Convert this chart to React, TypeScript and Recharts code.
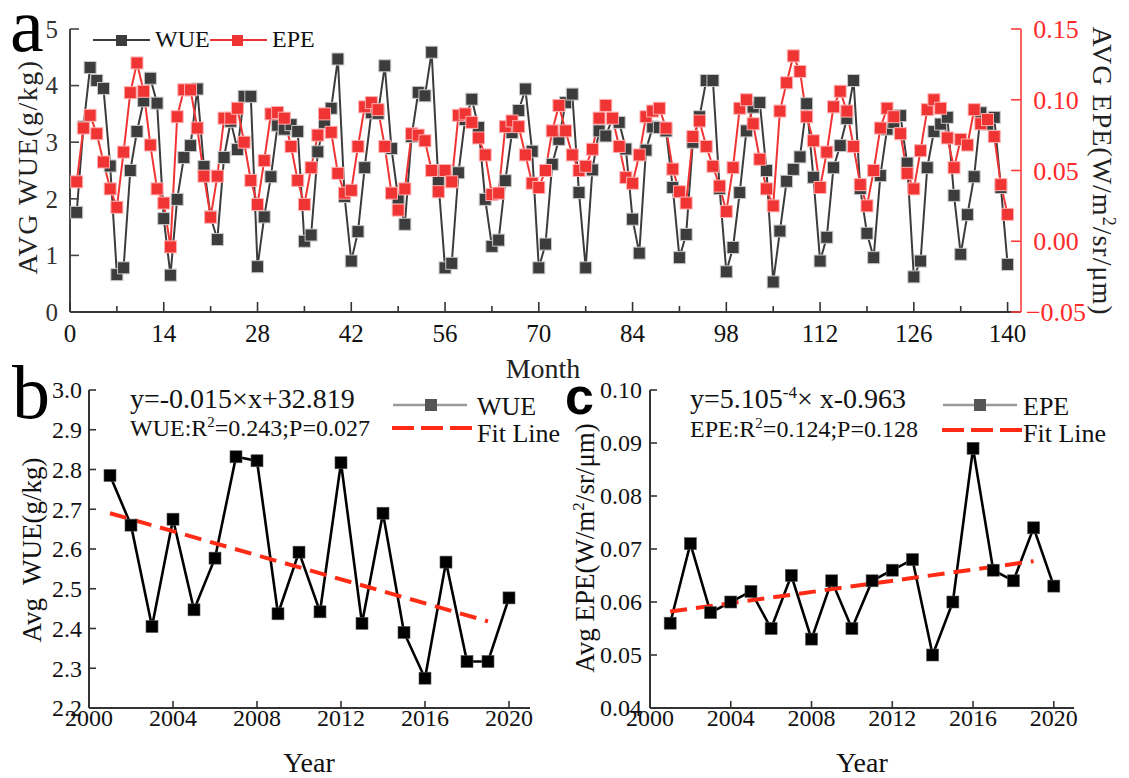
import React from 'react';
import { LineChart, Line, XAxis, YAxis } from 'recharts';

const FONT = '"Liberation Serif", "Times New Roman", Times, serif';

// ---------- Panel a: monthly data ----------
const MONTHS = Array.from({ length: 140 }, (_, i) => i + 1);
const WUE_MONTHLY = [
  1.76, 3.27, 4.32, 4.09, 3.95, 2.58, 0.66, 0.78, 2.5, 3.19,
  3.73, 4.13, 3.69, 1.65, 0.65, 1.99, 2.73, 2.94, 3.94, 2.57,
  1.68, 1.28, 2.73, 3.37, 2.87, 3.81, 3.81, 0.8, 1.68, 2.39,
  3.3, 3.23, 3.31, 3.19, 1.25, 1.36, 2.83, 3.35, 3.6, 4.47,
  2.04, 0.9, 1.42, 2.55, 3.52, 3.51, 4.35, 2.89, 2.01, 1.55,
  3.1, 3.88, 3.82, 4.59, 2.32, 0.78, 0.86, 2.46, 3.4, 3.76,
  3.26, 1.99, 1.16, 1.27, 2.32, 3.17, 3.56, 3.94, 2.84, 0.78,
  1.2, 2.61, 3.05, 3.7, 3.85, 2.11, 0.78, 2.51, 3.2, 3.11,
  3.42, 3.35, 2.88, 1.64, 1.04, 2.86, 3.27, 3.26, 3.2, 2.2,
  0.96, 1.37, 3.0, 3.45, 4.09, 4.09, 2.18, 0.71, 1.14, 2.11,
  3.2, 3.62, 3.7, 2.5, 0.53, 1.43, 2.31, 2.52, 2.74, 3.68,
  2.38, 0.9, 1.32, 2.55, 2.94, 3.42, 4.09, 2.18, 1.39, 0.96,
  2.41, 3.23, 3.35, 3.47, 2.63, 0.62, 0.9, 2.55, 3.19, 3.32,
  3.44, 2.06, 1.02, 1.72, 2.39, 3.52, 3.32, 3.44, 2.2, 0.84,
];
const EPE_MONTHLY = [
  0.042, 0.08, 0.089, 0.076, 0.056, 0.037, 0.024, 0.063, 0.105, 0.126,
  0.106, 0.068, 0.037, 0.027, -0.004, 0.088, 0.107, 0.107, 0.08, 0.046,
  0.017, 0.046, 0.087, 0.087, 0.094, 0.07, 0.043, 0.026, 0.057, 0.09,
  0.091, 0.087, 0.067, 0.043, 0.026, 0.052, 0.075, 0.09, 0.077, 0.048,
  0.034, 0.036, 0.067, 0.095, 0.098, 0.093, 0.067, 0.034, 0.022, 0.037,
  0.076, 0.075, 0.071, 0.05, 0.035, 0.05, 0.042, 0.089, 0.09, 0.084,
  0.073, 0.061, 0.033, 0.034, 0.081, 0.085, 0.081, 0.061, 0.041, 0.038,
  0.05, 0.078, 0.096, 0.078, 0.061, 0.05, 0.053, 0.065, 0.087, 0.096,
  0.087, 0.067, 0.045, 0.041, 0.061, 0.088, 0.092, 0.094, 0.08, 0.051,
  0.035, 0.027, 0.074, 0.085, 0.067, 0.053, 0.039, 0.021, 0.052, 0.094,
  0.1, 0.083, 0.058, 0.037, 0.025, 0.092, 0.112, 0.131, 0.12, 0.088,
  0.071, 0.038, 0.063, 0.095, 0.106, 0.092, 0.067, 0.04, 0.025, 0.05,
  0.08, 0.094, 0.088, 0.076, 0.048, 0.037, 0.064, 0.093, 0.1, 0.094,
  0.073, 0.052, 0.072, 0.068, 0.093, 0.083, 0.086, 0.074, 0.04, 0.019,
];
const A_X_TICKS = [0, 7, 14, 21, 28, 35, 42, 49, 56, 63, 70, 77, 84, 91, 98, 105, 112, 119, 126, 133, 140];
const A_WUE_TICKS = [0, 1, 2, 3, 4, 5];
const A_EPE_TICKS = [-0.05, 0, 0.05, 0.1, 0.15];

// ---------- Panels b & c: annual data ----------
const YEARS = [2001, 2002, 2003, 2004, 2005, 2006, 2007, 2008, 2009, 2010, 2011, 2012, 2013, 2014, 2015, 2016, 2017, 2018, 2019, 2020];
const WUE_ANNUAL = [2.785, 2.66, 2.405, 2.675, 2.447, 2.577, 2.832, 2.822, 2.437, 2.592, 2.442, 2.817, 2.413, 2.69, 2.39, 2.275, 2.567, 2.317, 2.317, 2.477];
const EPE_ANNUAL = [0.056, 0.071, 0.058, 0.06, 0.062, 0.055, 0.065, 0.053, 0.064, 0.055, 0.064, 0.066, 0.068, 0.05, 0.06, 0.089, 0.066, 0.064, 0.074, 0.063];
const FIT_YEARS = [2001, 2019];
const WUE_FIT = [2.69, 2.418];
const EPE_FIT = [0.0582, 0.0677];
const YEAR_TICKS = [2000, 2004, 2008, 2012, 2016, 2020];
const B_Y_TICKS = [2.2, 2.3, 2.4, 2.5, 2.6, 2.7, 2.8, 2.9, 3.0];
const C_Y_TICKS = [0.04, 0.05, 0.06, 0.07, 0.08, 0.09, 0.1];

const monthlyData = MONTHS.map((m, i) => ({ month: m, wue: WUE_MONTHLY[i], epe: EPE_MONTHLY[i] }));
const wueAnnual = YEARS.map((y, i) => ({ year: y, v: WUE_ANNUAL[i] }));
const epeAnnual = YEARS.map((y, i) => ({ year: y, v: EPE_ANNUAL[i] }));
const wueFit = FIT_YEARS.map((y, i) => ({ year: y, f: WUE_FIT[i] }));
const epeFit = FIT_YEARS.map((y, i) => ({ year: y, f: EPE_FIT[i] }));

// ---------- custom tick renderers (inward tick marks) ----------
type TickOpt = {
  len: number;
  minorLen?: number;
  lineColor: string;
  color: string;
  fs: number;
  gap: number;
  fmt: (v: number) => string;
  isMajor?: (v: number) => boolean;
  sw?: number;
};

const txtStyle = { fontFamily: FONT };

const leftTick = (o: TickOpt) => (p: any) => {
  const v = p.payload.value;
  return (
    <g>
      <line x1={p.x} x2={p.x + o.len} y1={p.y} y2={p.y} stroke={o.lineColor} strokeWidth={o.sw ?? 1.6} />
      <text x={p.x - o.gap} y={p.y} dy="0.35em" textAnchor="end" style={txtStyle} fontSize={o.fs} fill={o.color}>
        {o.fmt(v)}
      </text>
    </g>
  );
};

const rightTick = (o: TickOpt) => (p: any) => {
  const v = p.payload.value;
  return (
    <g>
      <line x1={p.x - o.len} x2={p.x} y1={p.y} y2={p.y} stroke={o.lineColor} strokeWidth={o.sw ?? 1.6} />
      <text x={p.x + o.gap} y={p.y} dy="0.35em" textAnchor="middle" style={txtStyle} fontSize={o.fs} fill={o.color}>
        {o.fmt(v)}
      </text>
    </g>
  );
};

const bottomTick = (o: TickOpt) => (p: any) => {
  const v = p.payload.value;
  const major = o.isMajor ? o.isMajor(v) : true;
  const len = major ? o.len : o.minorLen ?? o.len / 2;
  return (
    <g>
      <line x1={p.x} x2={p.x} y1={p.y} y2={p.y - len} stroke={o.lineColor} strokeWidth={o.sw ?? 1.6} />
      {major ? (
        <text x={p.x} y={p.y + o.gap} textAnchor="middle" style={txtStyle} fontSize={o.fs} fill={o.color}>
          {o.fmt(v)}
        </text>
      ) : null}
    </g>
  );
};

const square = (size: number, fill: string, stroke: string, sw: number) => (p: any) => {
  if (p.cx == null || p.cy == null) return <g key={`e-${p.index}`} />;
  return (
    <rect
      key={`sq-${p.index}`}
      x={p.cx - size / 2}
      y={p.cy - size / 2}
      width={size}
      height={size}
      fill={fill}
      stroke={stroke}
      strokeWidth={sw}
    />
  );
};

const WUE_GREY = '#3c3c3c';
const EPE_RED = '#f03434';
const FIT_RED = '#ff2b14';
const AXIS = '#333333';

function PanelA() {
  return (
    <LineChart width={1129} height={360} data={monthlyData} margin={{ top: 29, right: 0, bottom: 0, left: 0 }}>
      <XAxis
        dataKey="month"
        type="number"
        domain={[0, 142]}
        ticks={A_X_TICKS}
        interval={0}
        height={48}
        tickSize={0}
        tickMargin={0}
        tickLine={false}
        axisLine={{ stroke: AXIS, strokeWidth: 2 }}
        tick={bottomTick({
          len: 10,
          minorLen: 6,
          lineColor: AXIS,
          color: '#111',
          fs: 25,
          gap: 30,
          fmt: (v) => String(v),
          isMajor: (v) => v % 14 === 0,
        })}
      />
      <YAxis
        yAxisId="left"
        orientation="left"
        width={70}
        domain={[0, 5]}
        ticks={A_WUE_TICKS}
        interval={0}
        tickSize={0}
        tickMargin={0}
        tickLine={false}
        axisLine={{ stroke: '#444', strokeWidth: 2 }}
        tick={leftTick({ len: 9, lineColor: '#444', color: '#333', fs: 25, gap: 12, fmt: (v) => String(v) })}
      />
      <YAxis
        yAxisId="right"
        orientation="right"
        width={108}
        domain={[-0.05, 0.15]}
        ticks={A_EPE_TICKS}
        interval={0}
        tickSize={0}
        tickMargin={0}
        tickLine={false}
        axisLine={{ stroke: '#ff3b3b', strokeWidth: 1.6 }}
        tick={rightTick({
          len: 10,
          lineColor: '#ff3b3b',
          color: '#ff2a2a',
          fs: 26,
          gap: 35,
          fmt: (v) => (v < 0 ? '\u2212' + Math.abs(v).toFixed(2) : v.toFixed(2)),
        })}
      />
      <Line
        yAxisId="left"
        dataKey="wue"
        type="linear"
        stroke={WUE_GREY}
        strokeWidth={2}
        dot={square(12, WUE_GREY, '#c8c8c8', 1)}
        activeDot={false}
        isAnimationActive={false}
      />
      <Line
        yAxisId="right"
        dataKey="epe"
        type="linear"
        stroke={EPE_RED}
        strokeWidth={2}
        dot={square(12, EPE_RED, '#ffb0b0', 1)}
        activeDot={false}
        isAnimationActive={false}
      />
    </LineChart>
  );
}

function PanelB() {
  return (
    <LineChart width={560} height={408} margin={{ top: 20, right: 30, bottom: 0, left: 0 }}>
      <XAxis
        dataKey="year"
        type="number"
        domain={[2000, 2021]}
        ticks={YEAR_TICKS}
        interval={0}
        height={70}
        tickSize={0}
        tickMargin={0}
        tickLine={false}
        axisLine={{ stroke: AXIS, strokeWidth: 2 }}
        tick={bottomTick({ len: 7, lineColor: AXIS, color: '#111', fs: 24, gap: 18, fmt: (v) => String(v) })}
      />
      <YAxis
        width={89}
        domain={[2.2, 3.0]}
        ticks={B_Y_TICKS}
        interval={0}
        tickSize={0}
        tickMargin={0}
        tickLine={false}
        axisLine={{ stroke: AXIS, strokeWidth: 2 }}
        tick={leftTick({ len: 7, lineColor: AXIS, color: '#111', fs: 24, gap: 7, fmt: (v) => v.toFixed(1) })}
      />
      <Line
        data={wueAnnual}
        dataKey="v"
        type="linear"
        stroke="#000"
        strokeWidth={2.6}
        dot={square(12, '#000', '#555', 0.6)}
        activeDot={false}
        isAnimationActive={false}
      />
      <Line
        data={wueFit}
        dataKey="f"
        type="linear"
        stroke={FIT_RED}
        strokeWidth={4}
        strokeDasharray="17 9"
        dot={false}
        activeDot={false}
        isAnimationActive={false}
      />
    </LineChart>
  );
}

function PanelC() {
  return (
    <LineChart width={569} height={408} margin={{ top: 20, right: 55, bottom: 0, left: 0 }}>
      <XAxis
        dataKey="year"
        type="number"
        domain={[2000, 2021]}
        ticks={YEAR_TICKS}
        interval={0}
        height={70}
        tickSize={0}
        tickMargin={0}
        tickLine={false}
        axisLine={{ stroke: AXIS, strokeWidth: 2 }}
        tick={bottomTick({ len: 7, lineColor: AXIS, color: '#111', fs: 24, gap: 18, fmt: (v) => String(v) })}
      />
      <YAxis
        width={90}
        domain={[0.04, 0.1]}
        ticks={C_Y_TICKS}
        interval={0}
        tickSize={0}
        tickMargin={0}
        tickLine={false}
        axisLine={{ stroke: AXIS, strokeWidth: 2 }}
        tick={leftTick({ len: 7, lineColor: AXIS, color: '#111', fs: 24, gap: 8, fmt: (v) => v.toFixed(2) })}
      />
      <Line
        data={epeAnnual}
        dataKey="v"
        type="linear"
        stroke="#000"
        strokeWidth={2.6}
        dot={square(12, '#000', '#555', 0.6)}
        activeDot={false}
        isAnimationActive={false}
      />
      <Line
        data={epeFit}
        dataKey="f"
        type="linear"
        stroke={FIT_RED}
        strokeWidth={4}
        strokeDasharray="17 9"
        dot={false}
        activeDot={false}
        isAnimationActive={false}
      />
    </LineChart>
  );
}

function Overlay() {
  return (
    <svg
      width={1129}
      height={778}
      style={{ position: 'absolute', left: 0, top: 0, pointerEvents: 'none', fontFamily: FONT }}
    >
      {/* panel letters */}
      <text x={10} y={51} fontSize={76} fill="#000">a</text>
      <text x={12} y={418} fontSize={76} fill="#000">b</text>
      <text x={565} y={414} fontSize={52} fontWeight="bold" style={{ fontFamily: '"Liberation Sans", Arial, sans-serif' }} fill="#000">c</text>

      {/* panel a titles */}
      <text transform="translate(37,167) rotate(-90)" textAnchor="middle" fontSize={28} letterSpacing={1.5} fill="#222">
        AVG WUE(g/kg)
      </text>
      <text transform="translate(1093,171) rotate(90)" textAnchor="middle" fontSize={28} letterSpacing={1} fill="#222">
        <tspan>AVG EPE(W/m</tspan>
        <tspan dy={-10} fontSize={18}>2</tspan>
        <tspan dy={10}>/sr/μm)</tspan>
      </text>
      <text x={543} y={378} textAnchor="middle" fontSize={28} fill="#222">Month</text>

      {/* panel a legend */}
      <line x1={93} x2={150} y1={40} y2={40} stroke={WUE_GREY} strokeWidth={2} />
      <rect x={116} y={35} width={11} height={11} fill={WUE_GREY} />
      <text x={155} y={47} fontSize={24} fill="#111">WUE</text>
      <line x1={210} x2={267} y1={40} y2={40} stroke={EPE_RED} strokeWidth={2} />
      <rect x={232} y={35} width={11} height={11} fill={EPE_RED} />
      <text x={272} y={47} fontSize={24} fill="#111">EPE</text>

      {/* panel b texts */}
      <text transform="translate(41,550) rotate(-90)" textAnchor="middle" fontSize={27} fill="#111" style={{ whiteSpace: 'pre' }}>
        {'Avg  WUE(g/kg)'}
      </text>
      <text x={309} y={772} textAnchor="middle" fontSize={28} fill="#111">Year</text>
      <text x={130} y={408} fontSize={28} fill="#111">y=-0.015×x+32.819</text>
      <text x={130} y={436} fontSize={24} fill="#111">
        <tspan>WUE:R</tspan>
        <tspan dy={-9} fontSize={15}>2</tspan>
        <tspan dy={9}>=0.243;P=0.027</tspan>
      </text>
      <line x1={393} x2={467} y1={405} y2={405} stroke="#9a9a9a" strokeWidth={2.5} />
      <rect x={425} y={399} width={12} height={12} fill="#555" />
      <text x={477} y={415} fontSize={26} fill="#111">WUE</text>
      <line x1={392} x2={472} y1={428} y2={428} stroke={FIT_RED} strokeWidth={4} strokeDasharray="22 7" />
      <text x={477} y={442} fontSize={26} fill="#111">Fit Line</text>

      {/* panel c texts */}
      <text transform="translate(594,548) rotate(-90)" textAnchor="middle" fontSize={27} fill="#111">
        <tspan>Avg EPE(W/m</tspan>
        <tspan dy={-10} fontSize={17}>2</tspan>
        <tspan dy={10}>/sr/μm)</tspan>
      </text>
      <text x={862} y={772} textAnchor="middle" fontSize={28} fill="#111">Year</text>
      <text x={690} y={408} fontSize={28} fill="#111">
        <tspan>y=5.105</tspan>
        <tspan dy={-10} fontSize={17}>-4</tspan>
        <tspan dy={10}>× x-0.963</tspan>
      </text>
      <text x={690} y={437} fontSize={24} fill="#111">
        <tspan>EPE:R</tspan>
        <tspan dy={-9} fontSize={15}>2</tspan>
        <tspan dy={9}>=0.124;P=0.128</tspan>
      </text>
      <line x1={943} x2={1017} y1={405} y2={405} stroke="#9a9a9a" strokeWidth={2.5} />
      <rect x={974} y={399} width={12} height={12} fill="#555" />
      <text x={1023} y={415} fontSize={26} fill="#111">EPE</text>
      <line x1={942} x2={1022} y1={430} y2={430} stroke={FIT_RED} strokeWidth={4} strokeDasharray="22 7" />
      <text x={1023} y={442} fontSize={26} fill="#111">Fit Line</text>
    </svg>
  );
}

export default function App() {
  return (
    <div
      style={{
        position: 'absolute',
        left: 0,
        top: 0,
        width: 1129,
        height: 778,
        background: '#fff',
        overflow: 'hidden',
        fontFamily: FONT,
      }}
    >
      <div style={{ position: 'absolute', left: 0, top: 0 }}>
        <PanelA />
      </div>
      <div style={{ position: 'absolute', left: 0, top: 370 }}>
        <PanelB />
      </div>
      <div style={{ position: 'absolute', left: 560, top: 370 }}>
        <PanelC />
      </div>
      <Overlay />
    </div>
  );
}
